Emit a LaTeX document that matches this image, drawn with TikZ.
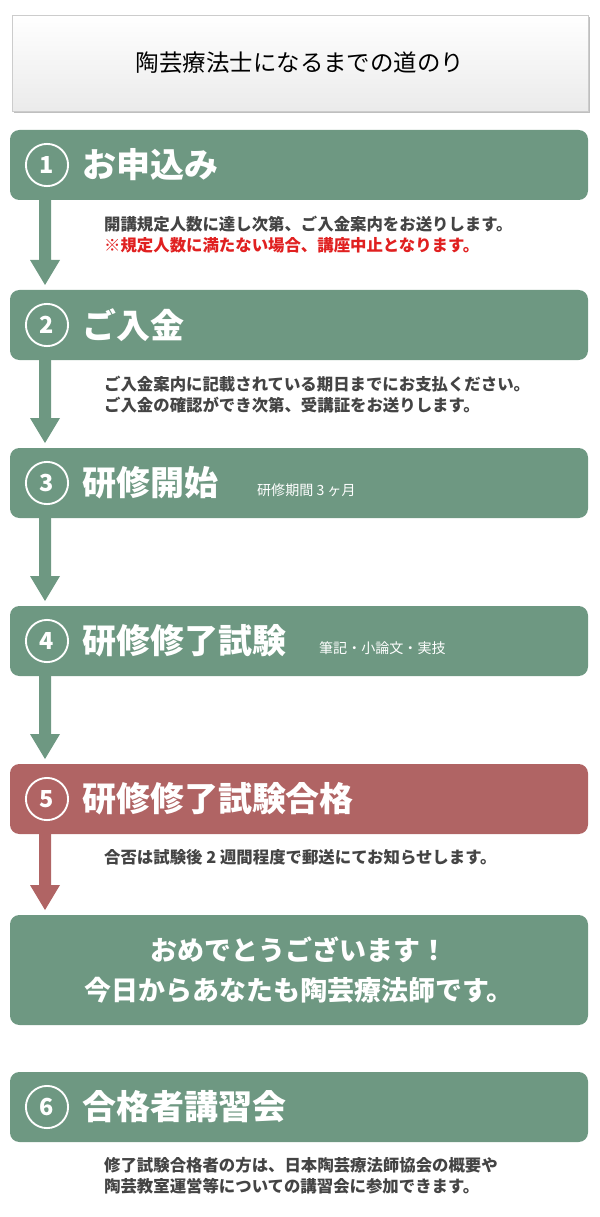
\documentclass[tikz,border=0pt]{standalone}
\usepackage{fontspec}
\setmainfont{Noto Sans CJK JP}
\usetikzlibrary{positioning,calc}
\definecolor{stepgreen}{HTML}{6E9882}
\definecolor{stepred}{HTML}{B06464}
\definecolor{notegray}{HTML}{444444}
\definecolor{notered}{HTML}{E02020}

\begin{document}
\begin{tikzpicture}[x=0.03cm, y=-0.03cm,
            stepbox/.style={fill=#1, rounded corners=8pt, draw=none},
            numcirc/.style={circle, draw=white, line width=1.6pt, minimum size=36, inner sep=0pt, text=white, font=\fontsize{20pt}{20pt}\selectfont\bfseries},
            head/.style={anchor=west, text=white, font=\fontsize{29pt}{30pt}\selectfont\bfseries},
            sub/.style={anchor=west, text=white, font=\fontsize{12pt}{13pt}\selectfont},
            note/.style={anchor=north west, text=notegray, align=left, font=\fontsize{14pt}{18pt}\selectfont\bfseries}
        ]
        \useasboundingbox (0,0) rectangle (600,1217);

        % Title
        \fill[black!25] (14,17) rectangle (590,113);
        \node[draw=black!20, top color=white, bottom color=black!8, minimum width=576*0.03cm, minimum height=96*0.03cm, font=\fontsize{20pt}{20pt}\selectfont] (title) at (300,63) {陶芸療法士になるまでの道のり};

        % Steps
        \foreach \name/\y/\col in {s1/130/stepgreen, s2/290/stepgreen, s3/448/stepgreen, s4/606/stepgreen, s5/764/stepred, s6/1072/stepgreen} {
            \fill[stepbox=\col] (10,\y) rectangle (588,\y+70);
            \coordinate (\name) at (47,\y+35);
            \coordinate (\name b) at (45,\y+70);
        }
        \fill[stepbox=stepgreen] (10,915) rectangle (588,1025);

        \node[numcirc] (n1) at (s1) {1};
        \node[numcirc] (n2) at (s2) {2};
        \node[numcirc] (n3) at (s3) {3};
        \node[numcirc] (n4) at (s4) {4};
        \node[numcirc] (n5) at (s5) {5};
        \node[numcirc] (n6) at (s6) {6};

        \node[head] (h1) at (78,165) {お申込み};
        \node[head] (h2) at (78,325) {ご入金};
        \node[head] (h3) at (78,483) {研修開始};
        \node[sub] (t3) at (253,490) {研修期間 3 ヶ月};
        \node[head] (h4) at (78,641) {研修修了試験};
        \node[sub] (t4) at (315,648) {筆記・小論文・実技};
        \node[head] (h5) at (78,799) {研修修了試験合格};
        \node[head] (h6) at (78,1107) {合格者講習会};
        \node[text=white, align=center, font=\fontsize{23pt}{34pt}\selectfont\bfseries] (fin) at (299,970) {おめでとうございます！\\今日からあなたも陶芸療法師です。};

        % Arrows
        \foreach \a/\b/\col in {s1b/290/stepgreen, s2b/448/stepgreen, s3b/606/stepgreen, s4b/764/stepgreen, s5b/915/stepred} {
            \fill[\col] ($(\a)+(-6,0)$) -- ($(\a)+(6,0)$) |- (60,\b-30) -- (45,\b-5) -- (30,\b-30) -| cycle;
        }

        % Notes
        \node[note] (m1) at (100,212) {開講規定人数に達し次第、ご入金案内をお送りします。\\\textcolor{notered}{※規定人数に満たない場合、講座中止となります。}};
        \node[note] (m2) at (100,372) {ご入金案内に記載されている期日までにお支払ください。\\ご入金の確認ができ次第、受講証をお送りします。};
        \node[note] (m5) at (100,845) {合否は試験後 2 週間程度で郵送にてお知らせします。};
        \node[note] (m6) at (100,1153) {修了試験合格者の方は、日本陶芸療法師協会の概要や\\陶芸教室運営等についての講習会に参加できます。};

\end{tikzpicture}
\end{document}
